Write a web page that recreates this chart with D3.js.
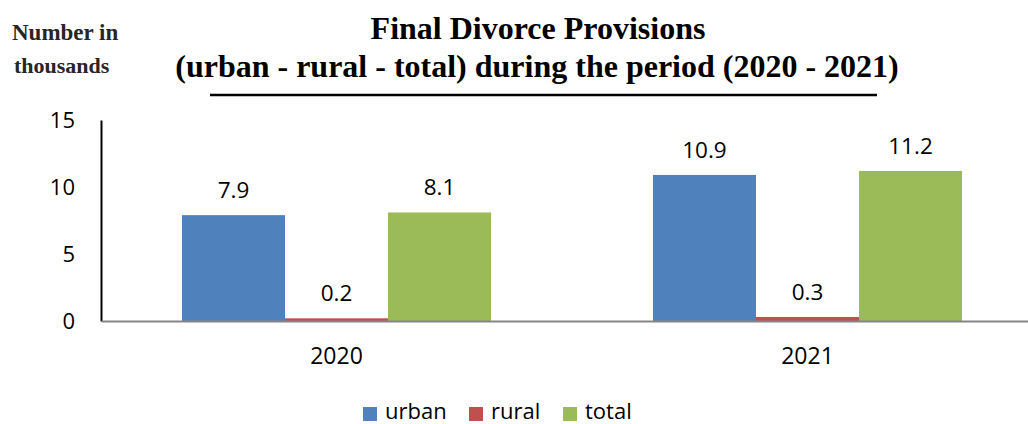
<!DOCTYPE html>
<html><head><meta charset="utf-8">
<script src="https://cdn.jsdelivr.net/npm/d3@7"></script>
<style>body{margin:0;background:#fff}svg{display:block}</style>
</head><body>
<svg id="c" width="1028" height="424"></svg>
<script>
const years = ["2020", "2021"];
const seriesNames = ["urban", "rural", "total"];
const urban = [7.9, 10.9];
const rural = [0.2, 0.3];
const total = [8.1, 11.2];
const yTicks = [0, 5, 10, 15];
const colors = ["#4F81BD", "#C0504D", "#9BBB59"];
const values = [urban, rural, total];

const svg = d3.select("#c");
const font = "'Open Sans', 'DejaVu Sans', sans-serif";

const x0 = d3.scaleBand().domain(years).range([101, 1043]).padding(0);
const x1 = d3.scaleBand().domain(seriesNames).range([0, x0.bandwidth()]).paddingInner(0).paddingOuter(0.786);
const y = d3.scaleLinear().domain([0, 15]).range([321, 120]);

// bars
years.forEach((yr, i) => {
  seriesNames.forEach((s, j) => {
    const v = values[j][i];
    const bx = x0(yr) + x1(s);
    svg.append("rect").attr("x", bx).attr("y", y(v)).attr("width", x1.bandwidth()).attr("height", y(0) - y(v)).attr("fill", colors[j]);
    svg.append("text").attr("x", bx + x1.bandwidth() / 2).attr("y", y(v) - 17)
      .attr("text-anchor", "middle").attr("font-family", font).attr("font-size", 22.5).attr("fill", "#000")
      .text(v.toFixed(1));
  });
});

// y axis
const yAxis = d3.axisLeft(y).tickValues(yTicks).tickSize(0).tickPadding(26);
const yg = svg.append("g").attr("transform", "translate(101,0)").call(yAxis);
yg.select(".domain").attr("stroke", "#000").attr("stroke-width", 2);
yg.selectAll("text").attr("font-family", font).attr("font-size", 22).attr("fill", "#000");

// x axis
const xAxis = d3.axisBottom(x0).tickSize(0).tickPadding(27);
const xg = svg.append("g").attr("transform", "translate(0,321)").call(xAxis);
xg.select(".domain").attr("stroke", "#858585").attr("stroke-width", 2);
xg.selectAll("text").attr("font-family", font).attr("font-size", 23).attr("fill", "#000");

// titles
const tf = "'Liberation Serif', 'Times New Roman', serif";
svg.append("text").attr("x", 538).attr("y", 39).attr("text-anchor", "middle").attr("font-family", tf)
  .attr("font-weight", "bold").attr("font-size", 32).text("Final Divorce Provisions");
svg.append("text").attr("x", 537).attr("y", 77).attr("text-anchor", "middle").attr("font-family", tf)
  .attr("font-weight", "bold").attr("font-size", 32).text("(urban - rural - total) during the period (2020 - 2021)");
svg.append("line").attr("x1", 210).attr("x2", 877).attr("y1", 95).attr("y2", 95).attr("stroke", "#000").attr("stroke-width", 2.5);
svg.append("text").attr("x", 12).attr("y", 40).attr("font-family", tf).attr("font-weight", "bold").attr("font-size", 23).attr("fill", "#262626").text("Number in");
svg.append("text").attr("x", 14).attr("y", 73).attr("font-family", tf).attr("font-weight", "bold").attr("font-size", 22).attr("fill", "#262626").text("thousands");

// legend
const legX = [363, 469, 563];
seriesNames.forEach((s, j) => {
  svg.append("rect").attr("x", legX[j]).attr("y", 407).attr("width", 14).attr("height", 14).attr("fill", colors[j]);
  svg.append("text").attr("x", legX[j] + 22).attr("y", 419).attr("font-family", font).attr("font-size", 22).attr("fill", "#000").text(s);
});
</script>
</body></html>
